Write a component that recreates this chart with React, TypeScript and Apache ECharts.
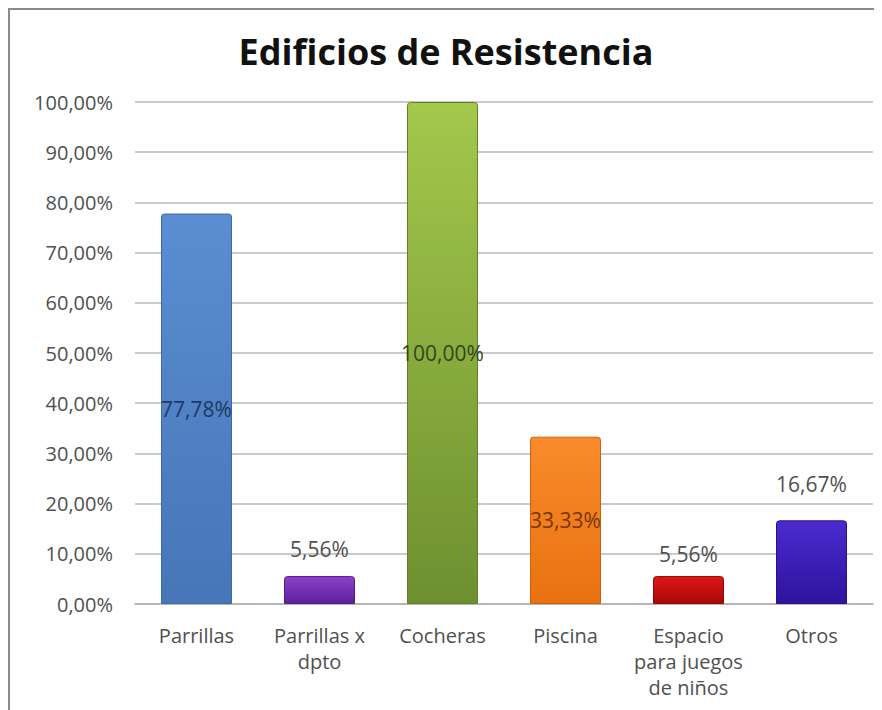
import React, { useEffect, useRef } from "react";
import * as echarts from "echarts";

const categories = ["Parrillas", "Parrillas x\ndpto", "Cocheras", "Piscina", "Espacio\npara juegos\nde niños", "Otros"];
const values = [77.78, 5.56, 100.0, 33.33, 5.56, 16.67];
const labelInside = [true, false, true, true, false, false];
const labelDistance = [0, 17, 0, 0, 12, 26];
const topColors = ["#5a8dd2", "#8a42c8", "#a3c84c", "#fa8a2c", "#e01616", "#4a2bd0"];
const bottomColors = ["#4676b8", "#5f1f9c", "#6e8f30", "#e8720f", "#a80808", "#2e139c"];
const borderColors = ["#3d6aa5", "#521a86", "#62802a", "#c9620c", "#8f0606", "#27108a"];
const insideLabelColors = ["#1f3a62", "#333", "#33461a", "#7a3500", "#333", "#333"];
const yTicks = [0, 10, 20, 30, 40, 50, 60, 70, 80, 90, 100];

const fmt = (v: number) => v.toFixed(2).replace(".", ",") + "%";

export default function App() {
  const ref = useRef<HTMLDivElement>(null);
  useEffect(() => {
    if (!ref.current) return;
    const chart = echarts.init(ref.current, undefined, { renderer: "svg" });
    const font = "'Open Sans', 'Noto Sans', sans-serif";
    chart.setOption({
      animation: false,
      backgroundColor: "#ffffff",
      title: {
        text: "Edificios de Resistencia",
        left: "center",
        top: 18,
        textStyle: { fontFamily: font, fontSize: 36, fontWeight: "bold", color: "#111" },
      },
      grid: { left: 125, right: 9, top: 92, bottom: 106, containLabel: false },
      xAxis: {
        type: "category",
        data: categories,
        axisLine: { show: true, lineStyle: { color: "#b0b0b0", width: 1.5 } },
        axisTick: { show: false },
        axisLabel: {
          fontFamily: font,
          fontSize: 20,
          color: "#505050",
          margin: 18,
          lineHeight: 26,
          interval: 0,
        },
      },
      yAxis: {
        type: "value",
        min: yTicks[0],
        max: yTicks[yTicks.length - 1],
        interval: 10,
        axisLine: { show: false },
        axisTick: { show: false },
        splitLine: { lineStyle: { color: "#b8b8b8", width: 1.5 } },
        axisLabel: {
          fontFamily: font,
          fontSize: 20,
          color: "#505050",
          margin: 22,
          formatter: (v: number) => fmt(v),
        },
      },
      series: [
        {
          type: "bar",
          barWidth: 71,
          data: values.map((v, i) => ({
            value: v,
            itemStyle: {
              color: new echarts.graphic.LinearGradient(0, 0, 0, 1, [
                { offset: 0, color: topColors[i] },
                { offset: 1, color: bottomColors[i] },
              ]),
              borderColor: borderColors[i],
              borderWidth: 1,
              borderRadius: [3, 3, 0, 0],
            },
            label: {
              show: true,
              position: labelInside[i] ? "inside" : "top",
              distance: labelDistance[i],
              formatter: () => fmt(v),
              fontFamily: font,
              fontSize: 21,
              color: labelInside[i] ? insideLabelColors[i] : "#505050",
            },
          })),
        },
      ],
    });
    return () => chart.dispose();
  }, []);
  return (
    <div
      style={{
        width: 872,
        height: 700,
        borderLeft: "2px solid #8a8a8a",
        borderTop: "2px solid #8a8a8a",
      }}
    >
      <div ref={ref} style={{ width: 872, height: 700 }} />
    </div>
  );
}
